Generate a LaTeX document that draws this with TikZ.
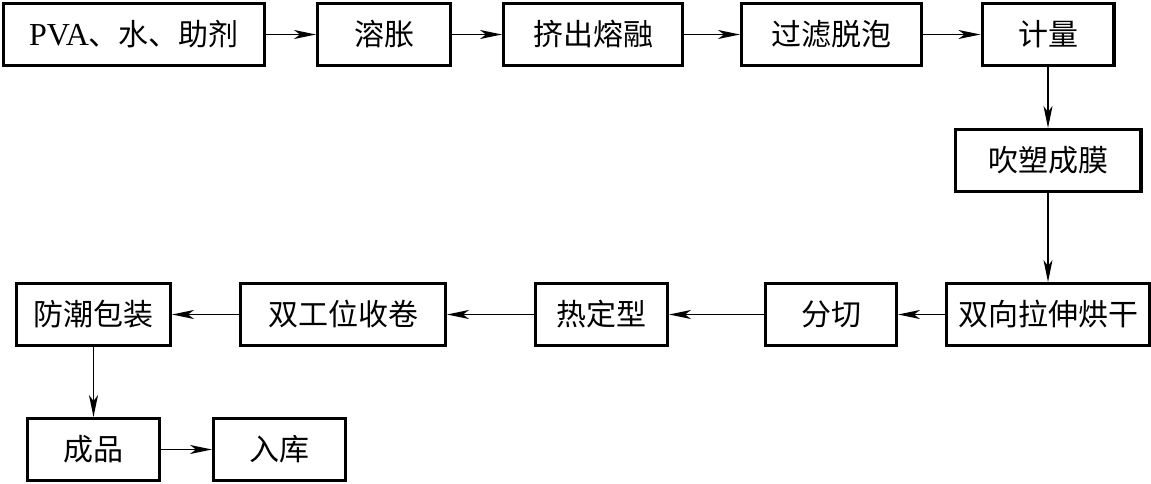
\documentclass[tikz,border=0pt]{standalone}
\usepackage{fontspec}
\setmainfont{Liberation Serif}
\newfontfamily\cjk{Noto Sans CJK SC}
\usepackage{tikz}
\usetikzlibrary{arrows.meta,positioning}

\begin{document}
\begin{tikzpicture}[x=1pt, y=-1pt, >={Stealth[length=22pt,width=9pt,inset=6pt]}]
  \tikzstyle{stage}=[draw,line width=3.2pt,minimum height=61.8pt,inner sep=2pt,font=\cjk\fontsize{30}{34}\selectfont]
  \tikzstyle{flow}=[->,line width=1.8pt]
  \useasboundingbox (0,0) rectangle (1151,484);
  % top row, left to right
  \node[stage,minimum width=260.8pt] (mix) at (134,34.5) {{\rmfamily\fontsize{32}{34}\selectfont PVA}、水、助剂};
  \node[stage,minimum width=132.8pt,right=50pt of mix] (swell) {溶胀};
  \node[stage,minimum width=178.8pt,right=50pt of swell] (melt) {挤出熔融};
  \node[stage,minimum width=179.8pt,right=56pt of melt] (filter) {过滤脱泡};
  \node[stage,minimum width=131.8pt,right=57.5pt of filter] (meter) {计量};
  \node[stage,minimum width=185.8pt,below=61pt of meter] (blow) {吹塑成膜};
  % middle row, right to left
  \node[stage,minimum width=202.8pt,below=89pt of blow] (stretch) {双向拉伸烘干};
  \node[stage,minimum width=130.8pt,left=47pt of stretch] (slit) {分切};
  \node[stage,minimum width=131.8pt,left=95pt of slit] (heat) {热定型};
  \node[stage,minimum width=204.8pt,left=87pt of heat] (wind) {双工位收卷};
  \node[stage,minimum width=153.8pt,left=67pt of wind] (pack) {防潮包装};
  % bottom row
  \node[stage,minimum width=131.8pt,below=70pt of pack] (prod) {成品};
  \node[stage,minimum width=131.8pt,right=51pt of prod] (store) {入库};
  \draw[flow] (mix) -- (swell);
  \draw[flow] (swell) -- (melt);
  \draw[flow] (melt) -- (filter);
  \draw[flow] (filter) -- (meter);
  \draw[flow] (meter) -- (blow);
  \draw[flow] (blow) -- (stretch);
  \draw[flow] (stretch) -- (slit);
  \draw[flow] (slit) -- (heat);
  \draw[flow] (heat) -- (wind);
  \draw[flow] (wind) -- (pack);
  \draw[flow] (pack) -- (prod);
  \draw[flow] (prod) -- (store);
\end{tikzpicture}
\end{document}
